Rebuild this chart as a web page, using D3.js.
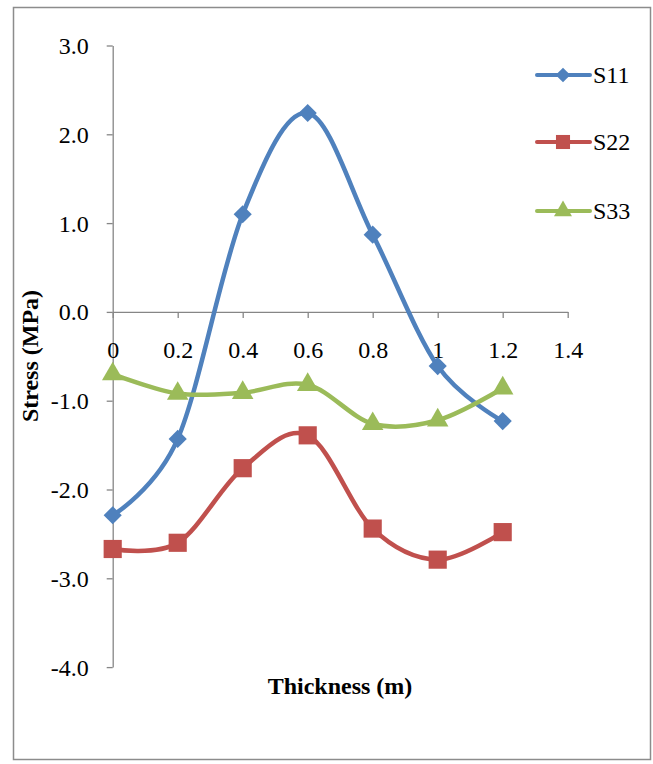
<!DOCTYPE html>
<html>
<head>
<meta charset="utf-8">
<script src="https://cdn.jsdelivr.net/npm/d3@7/dist/d3.min.js"></script>
<style>
  html, body { margin: 0; padding: 0; background: #fff; }
</style>
</head>
<body>
<svg id="chart" width="653" height="764"></svg>
<script>
// Thickness positions (m)
const thickness = [0, 0.2, 0.4, 0.6, 0.8, 1.0, 1.2];
// Stress components (MPa)
const s11 = [-2.29, -1.43, 1.10, 2.24, 0.87, -0.61, -1.23];
const s22 = [-2.67, -2.60, -1.76, -1.39, -2.44, -2.79, -2.48];
const s33 = [-0.70, -0.92, -0.91, -0.82, -1.26, -1.22, -0.86];
const seriesNames = ["S11", "S22", "S33"];
const seriesColors = ["#4F81BD", "#C0504D", "#9BBB59"];
const xTicks = [0, 0.2, 0.4, 0.6, 0.8, 1, 1.2, 1.4];
const yTicks = [3, 2, 1, 0, -1, -2, -3, -4];

const FONT = "'Liberation Serif', 'Times New Roman', 'DejaVu Serif', serif";
const FS = 24;

// marker shapes: diamond (square turned 45°), square, triangle
const markerDefs = [
  { type: d3.symbolSquare, size: 165, rotate: 45, legendScale: 0.65 },
  { type: d3.symbolSquare, size: 330, rotate: 0, legendScale: 0.6 },
  { type: d3.symbolTriangle, size: 200, rotate: 0, legendScale: 0.7 }
];

const series = [s11, s22, s33].map((vals, i) => ({
  name: seriesNames[i], color: seriesColors[i], marker: markerDefs[i],
  points: vals.map((v, j) => ({ x: thickness[j], y: v }))
}));

const svg = d3.select("#chart");

// outer chart frame
svg.append("rect")
  .attr("x", 13.5).attr("y", 7.5).attr("width", 637).attr("height", 752)
  .attr("fill", "#fff").attr("stroke", "#8c8c8c").attr("stroke-width", 1.5);

const x = d3.scaleLinear().domain([0, 1.4]).range([112.7, 567.7]);
const y = d3.scaleLinear().domain([-4, 3]).range([667.1, 45.5]);

const fmtY = v => d3.format(".1f")(v).replace("\u2212", "-");

// y axis (ticks to the left, labels right-aligned)
const yAxis = svg.append("g").attr("transform", `translate(${x(0)},0)`)
  .call(d3.axisLeft(y).tickValues(yTicks).tickFormat(fmtY).tickSize(6).tickSizeOuter(0));
yAxis.select(".domain").attr("stroke", "#868686").attr("stroke-width", 1.3);
yAxis.selectAll(".tick line").attr("stroke", "#868686").attr("stroke-width", 1.3);
yAxis.selectAll(".tick text")
  .attr("x", -24).attr("dy", "0.33em")
  .attr("font-family", FONT).attr("font-size", FS).attr("fill", "#000");

// x axis crossing at zero; ticks downward, labels placed below
const xAxis = svg.append("g").attr("transform", `translate(0,${y(0)})`)
  .call(d3.axisBottom(x).tickValues(xTicks).tickFormat(d => String(d)).tickSize(6).tickSizeOuter(0));
xAxis.select(".domain").attr("stroke", "#868686").attr("stroke-width", 1.3);
xAxis.selectAll(".tick line").attr("stroke", "#868686").attr("stroke-width", 1.3);
xAxis.selectAll(".tick text")
  .attr("y", 46).attr("dy", "0")
  .attr("font-family", FONT).attr("font-size", FS).attr("fill", "#000");

// axis titles
svg.append("text")
  .attr("x", 340).attr("y", 694)
  .attr("text-anchor", "middle")
  .attr("font-family", FONT).attr("font-size", FS).attr("font-weight", "bold")
  .text("Thickness (m)");

svg.append("text")
  .attr("transform", "translate(38,356) rotate(-90)")
  .attr("text-anchor", "middle")
  .attr("font-family", FONT).attr("font-size", FS).attr("font-weight", "bold")
  .text("Stress (MPa)");

// smoothed series lines
const line = d3.line().x(d => x(d.x)).y(d => y(d.y)).curve(d3.curveCatmullRom.alpha(0));

series.forEach(s => {
  const g = svg.append("g");
  g.append("path").datum(s.points)
    .attr("d", line).attr("fill", "none")
    .attr("stroke", s.color).attr("stroke-width", 4.5)
    .attr("stroke-linejoin", "round").attr("stroke-linecap", "round");
  g.selectAll("path.mark").data(s.points).join("path")
    .attr("class", "mark")
    .attr("transform", d => `translate(${x(d.x)},${y(d.y)}) rotate(${s.marker.rotate})`)
    .attr("d", d3.symbol().type(s.marker.type).size(s.marker.size))
    .attr("fill", s.color);
});

// legend
const legendY = [75, 142, 211];
series.forEach((s, i) => {
  const g = svg.append("g").attr("transform", `translate(0,${legendY[i]})`);
  g.append("line").attr("x1", 537).attr("x2", 590).attr("y1", 0).attr("y2", 0)
    .attr("stroke", s.color).attr("stroke-width", 4).attr("stroke-linecap", "round");
  g.append("path").attr("transform", `translate(563,0) rotate(${s.marker.rotate})`)
    .attr("d", d3.symbol().type(s.marker.type).size(s.marker.size * s.marker.legendScale))
    .attr("fill", s.color);
  g.append("text").attr("x", 593).attr("y", 0).attr("dy", "0.33em")
    .attr("font-family", FONT).attr("font-size", FS).text(s.name);
});
</script>
</body>
</html>
